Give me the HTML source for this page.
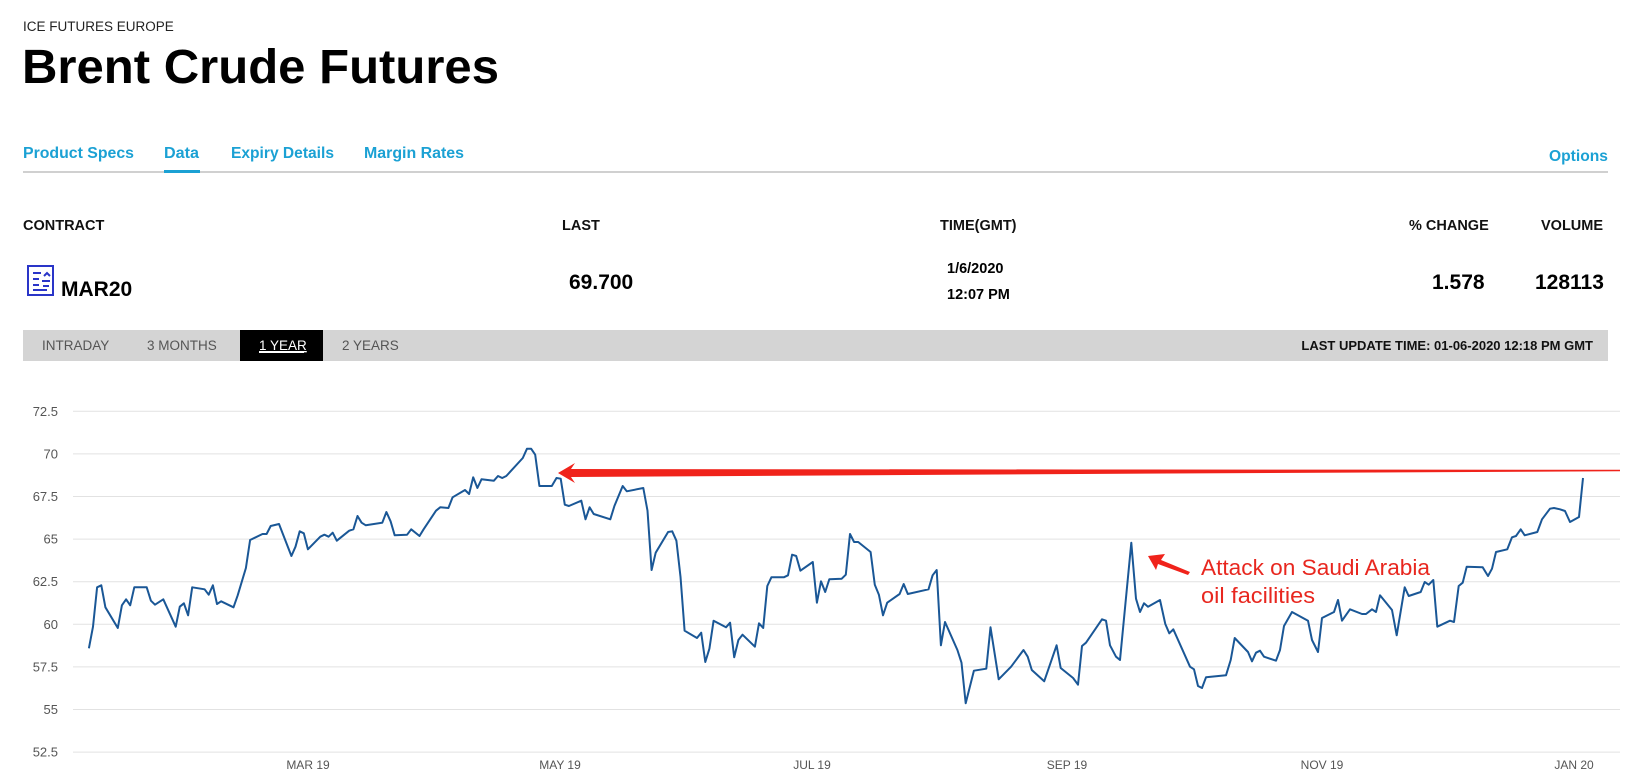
<!DOCTYPE html>
<html><head><meta charset="utf-8"><style>
html,body{margin:0;padding:0;background:#fff;}
svg{display:block;}
text{font-family:"Liberation Sans",Arial,sans-serif;}
</style></head><body>
<svg id="s" width="1628" height="784" viewBox="0 0 1628 784" xmlns="http://www.w3.org/2000/svg">
<rect width="1628" height="784" fill="#fff"/>
<text x="23" y="31" font-size="13.5" fill="#222">ICE FUTURES EUROPE</text>
<text x="22" y="83" font-size="48" font-weight="bold" fill="#000" textLength="477" lengthAdjust="spacingAndGlyphs">Brent Crude Futures</text>
<g font-size="15.5" font-weight="bold" fill="#1ba1d4">
<text x="23" y="158" textLength="111" lengthAdjust="spacingAndGlyphs">Product Specs</text>
<text x="164" y="158" textLength="35" lengthAdjust="spacingAndGlyphs">Data</text>
<text x="231" y="158" textLength="103" lengthAdjust="spacingAndGlyphs">Expiry Details</text>
<text x="364" y="158" textLength="100" lengthAdjust="spacingAndGlyphs">Margin Rates</text>
<text x="1549" y="161" textLength="59" lengthAdjust="spacingAndGlyphs">Options</text>
</g>
<rect x="23" y="171" width="1585" height="2" fill="#d0d0d0"/>
<rect x="164" y="170" width="36" height="3" fill="#1ba1d4"/>
<g font-size="14.5" font-weight="bold" fill="#111">
<text x="23" y="230">CONTRACT</text>
<text x="562" y="230">LAST</text>
<text x="940" y="230">TIME(GMT)</text>
<text x="1409" y="230">% CHANGE</text>
<text x="1541" y="230">VOLUME</text>
</g>
<g fill="none" stroke="#2a35c8" stroke-width="2">
<rect x="28" y="266" width="25" height="29"/>
<path d="M33 273h8M33 279h6M33 285h6M33 290h14M44 276l3-3 3 3M42 281h8M43 286h6"/>
</g>
<g font-weight="bold" fill="#000">
<text x="61" y="296" font-size="21">MAR20</text>
<text x="569" y="289" font-size="21">69.700</text>
<text x="1432" y="289" font-size="21">1.578</text>
<text x="1535" y="289" font-size="21">128113</text>
<text x="947" y="273" font-size="14.5">1/6/2020</text>
<text x="947" y="299" font-size="14.5">12:07 PM</text>
</g>
<rect x="23" y="330" width="1585" height="31" fill="#d4d4d4"/>
<rect x="240" y="330" width="83" height="31" fill="#000"/>
<g font-size="13.5" fill="#555">
<text x="42" y="350">INTRADAY</text>
<text x="147" y="350">3 MONTHS</text>
<text x="342" y="350">2 YEARS</text>
</g>
<text x="259" y="350" font-size="13.5" fill="#fff" text-decoration="underline">1 YEAR</text>
<rect x="259" y="352" width="45" height="1" fill="#fff"/>
<text x="1593" y="350" font-size="13" font-weight="bold" fill="#111" text-anchor="end">LAST UPDATE TIME: 01-06-2020 12:18 PM GMT</text>
<g id="grid"></g>
<polyline id="line" fill="none" stroke="#1a5796" stroke-width="2" stroke-linejoin="round"/>
<polygon fill="#f0231b" points="558,473 575,463 571,469 1080,469.5 1620,469.8 1620,471.2 1080,474 571,477 575,483"/>
<polygon fill="#f0231b" points="1148,556 1165,554 1161,560 1190,572 1188,575 1158,564 1156,570"/>
<g font-size="22" fill="#e8271f">
<text x="1201" y="575" textLength="229" lengthAdjust="spacingAndGlyphs">Attack on Saudi Arabia</text>
<text x="1201" y="603" textLength="114" lengthAdjust="spacingAndGlyphs">oil facilities</text>
</g>
<g font-size="12" fill="#555" text-anchor="middle">
<text x="308" y="769">MAR 19</text>
<text x="560" y="769">MAY 19</text>
<text x="812" y="769">JUL 19</text>
<text x="1067" y="769">SEP 19</text>
<text x="1322" y="769">NOV 19</text>
<text x="1574" y="769">JAN 20</text>
</g>
</svg>
<script>
var NS="http://www.w3.org/2000/svg";
var g=document.getElementById("grid");
var labs=["72.5","70","67.5","65","62.5","60","57.5","55","52.5"];
for(var i=0;i<9;i++){
 var y=411.3+i*42.6;
 var l=document.createElementNS(NS,"line");
 l.setAttribute("x1",73);l.setAttribute("x2",1620);l.setAttribute("y1",y);l.setAttribute("y2",y);
 l.setAttribute("stroke","#e2e2e2");l.setAttribute("stroke-width","1");g.appendChild(l);
 var t=document.createElementNS(NS,"text");
 t.setAttribute("x",58);t.setAttribute("y",y+4.5);t.setAttribute("text-anchor","end");
 t.setAttribute("font-size","13");t.setAttribute("fill","#555");t.textContent=labs[i];g.appendChild(t);
}
var z1=[200,805,212,740,224,622,236,616,248,682,284,744,296,676,308,658,320,676,332,622,368,622,380,662,392,674,416,658,452,740,464,680,476,670,488,706,500,622,536,628,548,644,560,616,572,672,584,664,620,682,632,646,656,564,668,480,704,462,716,462,728,438,752,432,788,528,800,500,812,454,824,460,836,508,872,470,884,464,896,470,908,458,920,482,956,452,968,448,980,408,992,428,1004,436,1052,428,1064,396,1076,424,1088,466,1124,464,1136,448,1160,468,1172,448,1208,392,1220,382,1244,384,1256,352,1292,330,1304,342,1316,292,1328,324,1340,298,1376,302,1388,288,1400,294,1412,288,1460,234,1472,206,1484,206,1496,224,1508,318,1544,318];
var z2=[48,174,60,176,72,254,84,258,120,242,132,298,144,262,156,282,204,298,216,258,240,198,252,214,300,204,312,272,324,450,336,398,372,336,384,334,396,362,408,470,420,632,456,654,468,638,480,726,492,686,504,602,540,622,552,608,564,712,576,660,588,644,624,680,636,610,648,624,660,498,672,472,708,472,720,466,732,404,744,408,756,452,792,426,804,548,816,484,828,516,840,478,876,476,888,464,900,342,912,366,924,366,960,396,972,494,984,524,996,586,1008,548,1044,522,1056,492,1068,522,1128,508,1140,466,1152,450,1164,676,1176,606,1212,690,1224,728,1236,850,1260,752,1296,746,1308,622,1332,778,1368,740,1404,690,1416,710,1428,750,1464,784,1500,676,1512,744,1548,774];
var z3=[54,794,66,678,78,668,126,598,138,602,150,676,168,710,180,720,214,368,228,536,240,576,252,550,264,560,300,540,316,612,328,640,340,628,390,740,402,748,414,798,426,804,438,772,498,766,512,720,524,654,564,696,576,724,588,698,600,692,612,710,648,722,660,690,672,618,696,576,744,602,756,660,774,696,786,594,822,576,834,540,846,602,870,568,906,582,918,582,936,568,948,576,960,526,996,570,1010,646,1034,502,1046,528,1082,516,1094,486,1106,494,1120,480,1132,620,1170,602,1182,606,1196,498,1208,488,1220,440,1268,442,1284,468,1296,446,1308,396,1342,388,1356,352,1368,348,1382,328,1394,346,1432,336,1446,298,1470,266,1482,264,1500,268];
var pts=[];
function add(a,x0,y0,sx){for(var i=0;i<a.length;i+=2){pts.push((x0+a[i]*sx).toFixed(1)+","+(y0+a[i+1]/3).toFixed(1));}}
add(z1,20,380,0.3444);
add(z2,540,420,0.3444);
add(z3,1060,420,1/3);
pts.push("1565,511","1570,522","1579,517","1583,478");
document.getElementById("line").setAttribute("points",pts.join(" "));
</script>
</body></html>
